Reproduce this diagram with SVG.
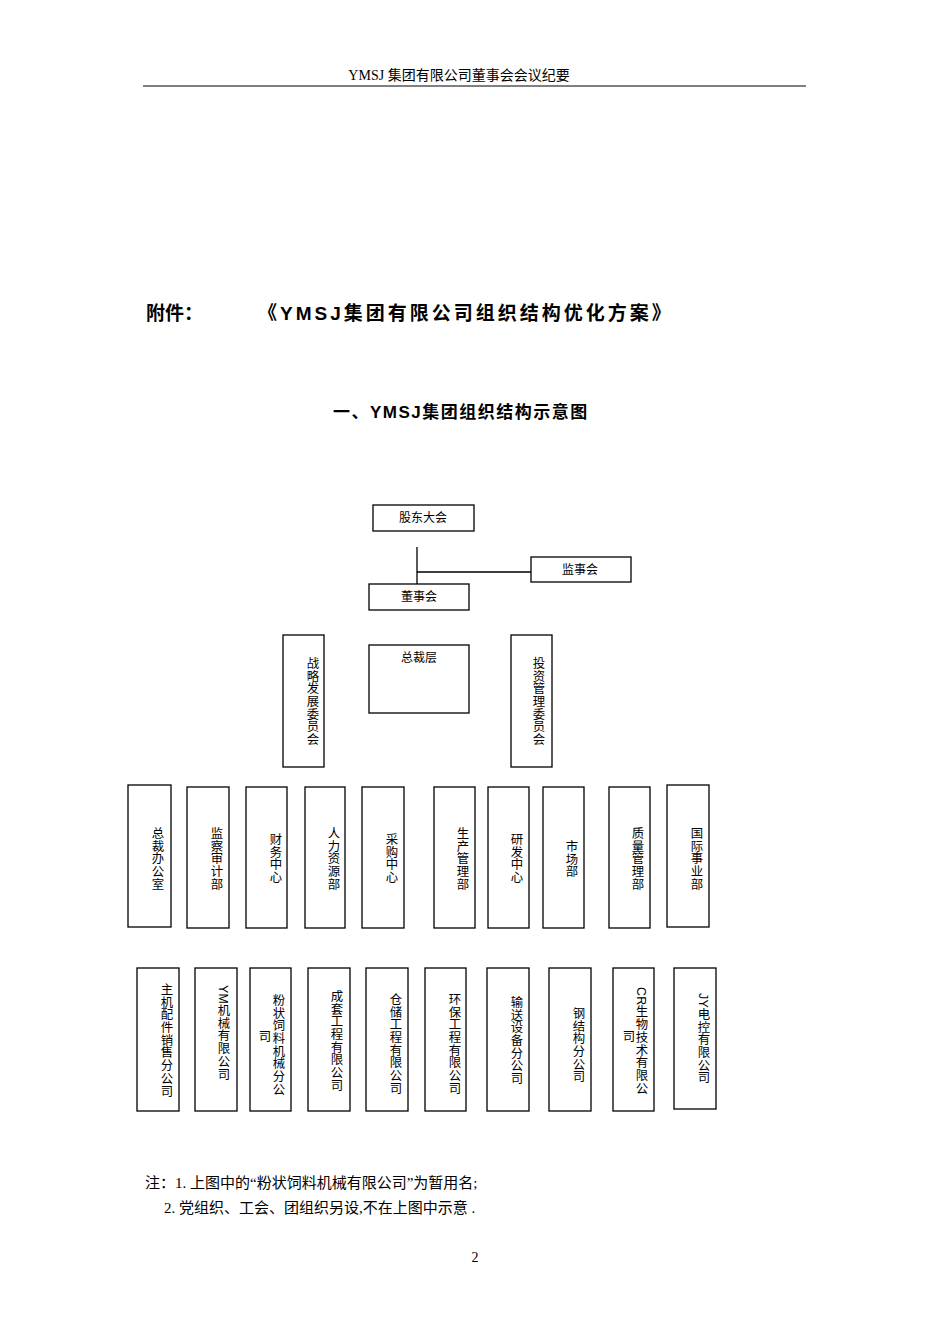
<svg xmlns="http://www.w3.org/2000/svg" width="950" height="1344" viewBox="0 0 950 1344">
<style>
.b{fill:#fff;stroke:#000;stroke-width:1.3}
.t{font-family:"Liberation Sans","Noto Sans CJK SC",sans-serif;font-size:12px;fill:#000}
.v{font-family:"Liberation Sans","Noto Sans CJK SC",sans-serif;font-size:12.4px;fill:#000;writing-mode:tb;letter-spacing:0.3px}
.h{font-family:"Liberation Serif","Noto Sans CJK SC",serif;font-size:14px}
.ti{font-family:"Liberation Sans","Noto Sans CJK SC",sans-serif;font-weight:bold}
.n{font-family:"Liberation Serif","Noto Sans CJK SC",serif;font-size:15px}
</style>
<rect width="950" height="1344" fill="#fff"/>
<text class="h" x="459" y="80" text-anchor="middle">YMSJ 集团有限公司董事会会议纪要</text>
<line x1="143" y1="86" x2="806" y2="86" stroke="#000" stroke-width="1"/>
<text class="ti" x="146" y="320" font-size="19">附件：</text>
<text class="ti" x="258" y="320" font-size="19" letter-spacing="3">《YMSJ集团有限公司组织结构优化方案》</text>
<text class="ti" x="333" y="418" font-size="17" letter-spacing="1.5">一、YMSJ集团组织结构示意图</text>
<g id="connectors"><path d="M417 547V584M417 572H531" stroke="#000" stroke-width="1.3" fill="none"/></g>
<g id="gudong"><rect class="b" x="373" y="505" width="101" height="26"/><text class="t" x="423" y="522" text-anchor="middle">股东大会</text></g>
<g id="jianshi"><rect class="b" x="531" y="557" width="100" height="25"/><text class="t" x="580" y="574" text-anchor="middle">监事会</text></g>
<g id="dongshi"><rect class="b" x="369" y="584" width="100" height="26"/><text class="t" x="419" y="601" text-anchor="middle">董事会</text></g>
<g id="zhanlue"><rect class="b" x="283" y="635" width="41" height="132"/><text class="v" x="312" y="657">战略发展委员会</text></g>
<g id="zongcai"><rect class="b" x="369" y="645" width="100" height="68"/><text class="t" x="419" y="662" text-anchor="middle">总裁层</text></g>
<g id="touzi"><rect class="b" x="511" y="635" width="41" height="132"/><text class="v" x="538" y="657">投资管理委员会</text></g>
<g id="r1a"><rect class="b" x="128" y="785" width="43" height="142"/><text class="v" x="157" y="827">总裁办公室</text></g>
<g id="r1b"><rect class="b" x="187" y="787" width="42" height="141"/><text class="v" x="216" y="827">监察审计部</text></g>
<g id="r1c"><rect class="b" x="246" y="787" width="41" height="141"/><text class="v" x="275" y="833">财务中心</text></g>
<g id="r1d"><rect class="b" x="305" y="787" width="40" height="141"/><text class="v" x="333" y="827">人力资源部</text></g>
<g id="r1e"><rect class="b" x="362" y="787" width="42" height="141"/><text class="v" x="391" y="833">采购中心</text></g>
<g id="r1f"><rect class="b" x="434" y="787" width="41" height="141"/><text class="v" x="462" y="827">生产管理部</text></g>
<g id="r1g"><rect class="b" x="488" y="787" width="41" height="141"/><text class="v" x="516" y="833">研发中心</text></g>
<g id="r1h"><rect class="b" x="543" y="787" width="41" height="141"/><text class="v" x="571" y="840">市场部</text></g>
<g id="r1i"><rect class="b" x="609" y="787" width="41" height="141"/><text class="v" x="637" y="827">质量管理部</text></g>
<g id="r1j"><rect class="b" x="667" y="785" width="42" height="142"/><text class="v" x="696" y="827">国际事业部</text></g>
<g id="r2a"><rect class="b" x="137" y="968" width="42" height="143"/><text class="v" x="166" y="983">主机配件销售分公司</text></g>
<g id="r2b"><rect class="b" x="195" y="968" width="42" height="143"/><text class="v" x="223" y="985">YM机械有限公司</text></g>
<g id="r2c"><rect class="b" x="250" y="968" width="41" height="143"/><text class="v" x="278" y="994">粉状饲料机械分公</text><text class="v" x="264" y="1030">司</text></g>
<g id="r2d"><rect class="b" x="308" y="968" width="42" height="143"/><text class="v" x="336" y="990">成套工程有限公司</text></g>
<g id="r2e"><rect class="b" x="366" y="968" width="42" height="143"/><text class="v" x="395" y="993">仓储工程有限公司</text></g>
<g id="r2f"><rect class="b" x="425" y="968" width="41" height="143"/><text class="v" x="454" y="993">环保工程有限公司</text></g>
<g id="r2g"><rect class="b" x="487" y="968" width="42" height="143"/><text class="v" x="516" y="996">输送设备分公司</text></g>
<g id="r2h"><rect class="b" x="549" y="968" width="42" height="143"/><text class="v" x="578" y="1007">钢结构分公司</text></g>
<g id="r2i"><rect class="b" x="613" y="968" width="41" height="143"/><text class="v" x="641" y="987">CR生物技术有限公</text><text class="v" x="628" y="1030">司</text></g>
<g id="r2j"><rect class="b" x="674" y="968" width="42" height="141"/><text class="v" x="703" y="993">JY电控有限公司</text></g>
<text class="n" x="145" y="1188">注：1. 上图中的“粉状饲料机械有限公司”为暂用名;</text>
<text class="n" x="164" y="1213">2. 党组织、工会、团组织另设,不在上图中示意 .</text>
<text class="h" x="475" y="1262" text-anchor="middle">2</text>
</svg>
